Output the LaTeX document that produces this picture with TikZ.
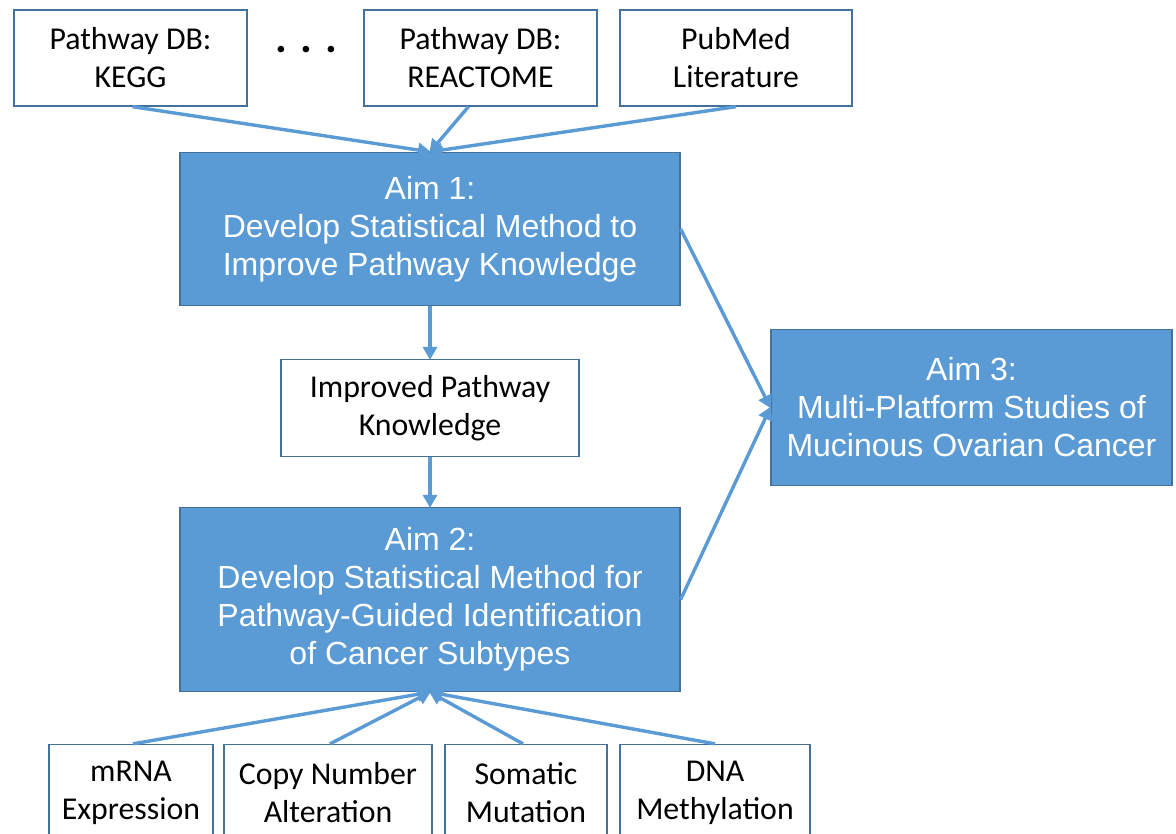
\documentclass[tikz,border=0pt]{standalone}
\usepackage{fontspec}
\setmainfont{Carlito}
\newfontfamily\arialfont{Liberation Sans}
\usetikzlibrary{arrows.meta}
\definecolor{aimblue}{RGB}{91,155,213}
\definecolor{aimedge}{RGB}{65,113,156}
\tikzset{
	srcbox/.style={draw=aimedge, line width=1.3pt, fill=white, inner sep=0pt, align=center,
		font=\fontsize{31.8}{38}\selectfont},
	aimbox/.style={draw=aimedge, line width=1.3pt, fill=aimblue, text=white, inner sep=0pt, align=center,
		font=\arialfont\fontsize{32}{38}\selectfont},
	link/.style={draw=aimblue, line width=3.4pt, -{Triangle[length=13pt,width=14pt]}, shorten >=-1pt}
}
\begin{document}
\begin{tikzpicture}[x=1pt, y=-1pt]
		%%%%% START %%%%%
		\useasboundingbox (0,0) rectangle (1176,834);
		\clip (0,0) rectangle (1176,834);
		
		% sources of pathway knowledge
		\node[srcbox, minimum width=233pt, minimum height=96pt] (kegg) at (130.5,58) {Pathway DB:\\KEGG};
		\node[font=\bfseries\fontsize{44}{44}\selectfont] (dots) at (306,50) {. . .};
		\node[srcbox, minimum width=233pt, minimum height=96pt] (reactome) at (480.5,58) {Pathway DB:\\REACTOME};
		\node[srcbox, minimum width=232pt, minimum height=96pt] (pubmed) at (736,58) {PubMed\\Literature};
		
		% aims
		\node[aimbox, minimum width=500pt, minimum height=153pt] (aim1) at (430,229) {Aim 1:\\Develop Statistical Method to\\Improve Pathway Knowledge};
		\node[srcbox, minimum width=298pt, minimum height=97pt] (improved) at (430,408) {Improved Pathway\\Knowledge};
		\node[aimbox, minimum width=500pt, minimum height=184pt] (aim2) at (430,599.5) {Aim 2:\\Develop Statistical Method for\\Pathway-Guided Identification\\of Cancer Subtypes};
		\node[aimbox, minimum width=401pt, minimum height=156pt] (aim3) at (971.5,407.5) {Aim 3:\\Multi-Platform Studies of\\Mucinous Ovarian Cancer};
		
		% data platforms
		\node[srcbox, minimum width=164pt, minimum height=97pt] (mrna) at (131,793) {mRNA\\Expression};
		\node[srcbox, minimum width=208pt, minimum height=97pt] (cna) at (328,793) {Copy Number\\Alteration};
		\node[srcbox, minimum width=162pt, minimum height=97pt] (somatic) at (526,793) {Somatic\\Mutation};
		\node[srcbox, minimum width=190pt, minimum height=97pt] (methyl) at (715,793) {DNA\\Methylation};
		
		% connectors
		\draw[link] ([xshift=2pt]kegg.south) -- (aim1.north);
		\draw[link] ([xshift=-12pt]reactome.south) -- (aim1.north);
		\draw[link] (pubmed.south) -- (aim1.north);
		\draw[link] (aim1) -- (improved);
		\draw[link] (improved) -- (aim2);
		\draw[link] (aim1.east) -- (aim3.west);
		\draw[link] (aim2.east) -- (aim3.west);
		\draw[link] ([xshift=2pt]mrna.north) -- (aim2.south);
		\draw[link] ([xshift=2pt]cna.north) -- (aim2.south);
		\draw[link] ([xshift=-3pt]somatic.north) -- (aim2.south);
		\draw[link] (methyl.north) -- (aim2.south);
		%%%%% END %%%%%
	\end{tikzpicture}
\end{document}
